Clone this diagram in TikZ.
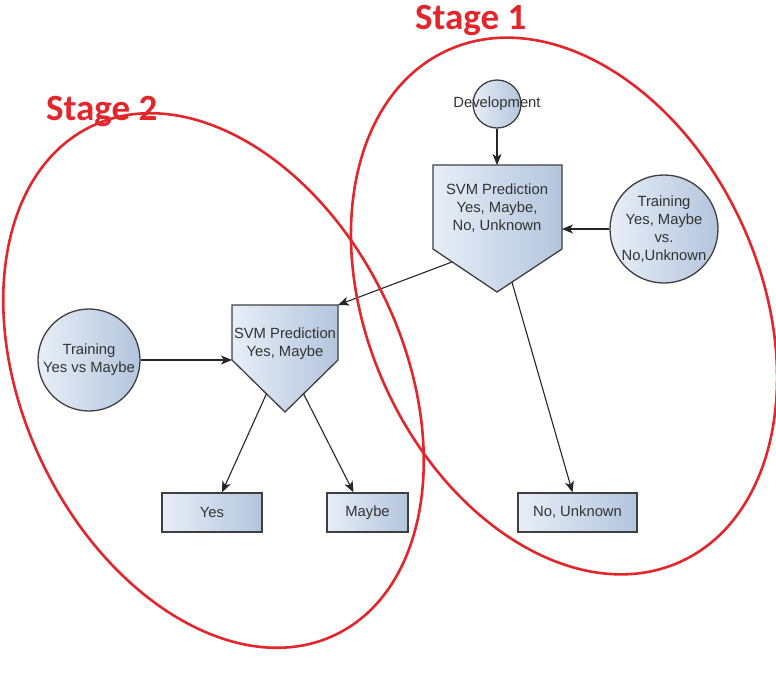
\documentclass[tikz,border=0pt]{standalone}
\usepackage{fontspec}
\setmainfont{Liberation Sans}
\newfontfamily\stagefont{Carlito}
\usetikzlibrary{arrows.meta,calc}
\definecolor{shapeL}{HTML}{E8EEF7}
\definecolor{shapeR}{HTML}{B3C5DD}
\definecolor{edgec}{HTML}{3F3F3F}
\definecolor{txtc}{HTML}{333333}
\definecolor{stagered}{HTML}{E3262B}
\begin{document}
\begin{tikzpicture}[x=1pt,y=-1pt,
  shp/.style={draw=edgec, line width=1.3pt, left color=shapeL, right color=shapeR},
  circ/.style={shp, circle, inner sep=0pt, text=txtc, align=center, font=\fontsize{14.8}{18.2}\selectfont},
  boxn/.style={shp, rectangle, inner sep=0pt, minimum height=39pt, text=txtc, font=\fontsize{14.8}{18.2}\selectfont},
  lbl/.style={text=txtc, align=center, inner sep=0pt, font=\fontsize{14.8}{18.2}\selectfont},
  conn/.style={draw=black!85, line width=1.1pt, -{Stealth[length=11pt,width=9pt,inset=3pt]}},
  stage/.style={draw=stagered, line width=2.6pt},
  stagelbl/.style={text=stagered, inner sep=0pt, font=\stagefont\bfseries\fontsize{37}{40}\selectfont}
]
\useasboundingbox (0,0) rectangle (776,678);

% Stage 1 pentagon
\coordinate (p1nw) at (433,165);
\coordinate (p1ne) at (562,165);
\coordinate (p1se) at (562,249);
\coordinate (p1tip) at (497,292);
\coordinate (p1sw) at (433,249);
\path[shp] (p1nw) -- (p1ne) -- (p1se) -- (p1tip) -- (p1sw) -- cycle;
\node[lbl] (p1) at (497,208) {SVM Prediction\\Yes, Maybe,\\No, Unknown};

% Stage 2 pentagon
\coordinate (p2nw) at (232,305);
\coordinate (p2ne) at (338,305);
\coordinate (p2se) at (338,360);
\coordinate (p2tip) at (285,412);
\coordinate (p2sw) at (232,360);
\path[shp] (p2nw) -- (p2ne) -- (p2se) -- (p2tip) -- (p2sw) -- cycle;
\node[lbl] (p2) at (285,344) {SVM Prediction\\Yes, Maybe};

% circles
\node[circ, minimum size=48pt] (dev) at (497,104) {};
\node[lbl] (devtxt) at (dev) {Development};
\node[circ, minimum size=108pt] (t1) at (664,229) {Training\\Yes, Maybe\\vs.\\No,Unknown};
\node[circ, minimum size=102pt] (t2) at (89,360) {Training\\Yes vs Maybe};

% result boxes
\node[boxn, minimum width=100pt] (yes) at (212,512.5) {Yes};
\node[boxn, minimum width=81pt] (maybe) at (367.5,512.5) {Maybe};
\node[boxn, minimum width=119pt] (nobox) at (577.5,512.5) {No, Unknown};

% connectors
\draw[conn] (dev.south) -- (dev.south |- p1nw);
\draw[conn] (t1.west) -- (t1.west -| p1ne);
\draw[conn] (t2.east) -- (t2.east -| p2nw);
\draw[conn] ($(p1sw)!0.3!(p1tip)$) -- (p2ne);
\draw[conn] ($(p1tip)!0.23!(p1se)$) -- ($(nobox.north)+(-5,0)$);
\draw[conn] ($(p2tip)!0.35!(p2sw)$) -- ($(yes.north)+(10,0)$);
\draw[conn] ($(p2tip)!0.35!(p2se)$) -- ($(maybe.north)+(-14,0)$);

% stage ellipses
\draw[stage, rotate around={-65.5:(564,306)}] (564,306) ellipse [x radius=281, y radius=196];
\draw[stage, rotate around={-64.4:(213.5,380.5)}] (213.5,380.5) ellipse [x radius=282, y radius=190];

\node[stagelbl, anchor=base west] (s1) at (415,29) {Stage 1};
\node[stagelbl, anchor=base west] (s2) at (46,120) {Stage 2};
\end{tikzpicture}
\end{document}
